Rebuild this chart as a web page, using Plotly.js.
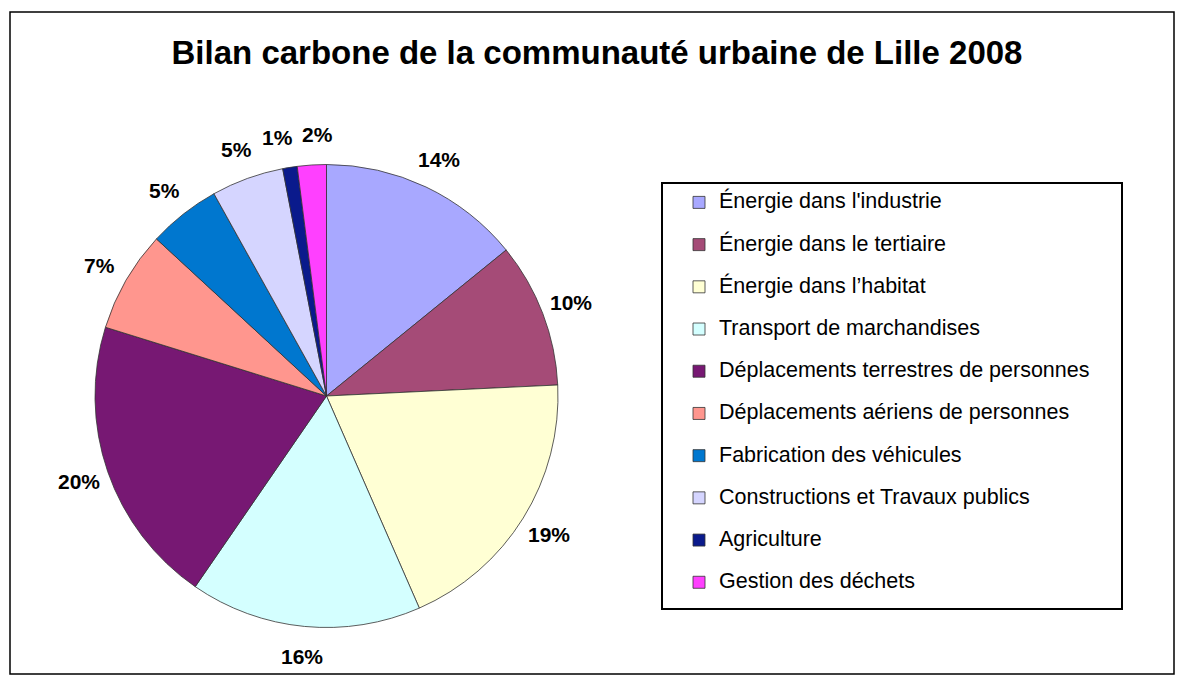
<!DOCTYPE html>
<html><head><meta charset="utf-8">
<script src="https://cdn.plot.ly/plotly-3.0.1.min.js"></script>
<style>html,body{margin:0;padding:0;background:#fff;} #chart{width:1184px;height:684px;}</style>
</head><body><div id="chart"></div>
<script>
const categories = ["Énergie dans l'industrie","Énergie dans le tertiaire","Énergie dans l’habitat","Transport de marchandises","Déplacements terrestres de personnes","Déplacements aériens de personnes","Fabrication des véhicules","Constructions et Travaux publics","Agriculture","Gestion des déchets"];
const shares = [14,10,19,16,20,7,5,5,1,2];
const colors = ["#A8A8FF","#A54B77","#FFFFD4","#D4FFFF","#771873","#FF968E","#0077CF","#D5D5FF","#0A1A8C","#FF40FF"];
const titleText = "Bilan carbone de la communauté urbaine de Lille 2008";

const W = 1184, H = 684;
const cx = 326.5, cy = 396, R = 231.5, labelR = 262;
const LABEL_SIZE = 21;
const FONT = "Liberation Sans, Arial, sans-serif";
const px2x = p => p / W, py2y = p => 1 - p / H;

const total = shares.reduce((a, b) => a + b, 0);
let cum = 0;
const labels = shares.map(v => {
  const mid = (cum + v / 2) / total * 2 * Math.PI;
  cum += v;
  const txt = Math.round(v / total * 100) + '%';
  const w = (txt.length - 1) * 0.556 * LABEL_SIZE + 0.889 * LABEL_SIZE;
  return {px: cx + labelR * Math.sin(mid), py: cy - labelR * Math.cos(mid), txt: txt, w: w};
});
// simple collision avoidance between neighbouring labels (horizontal push)
for (let k = 0; k < 3; k++) {
  for (let i = 0; i < labels.length; i++) {
    const a = labels[i], b = labels[(i + 1) % labels.length];
    if (Math.abs(a.py - b.py) < LABEL_SIZE) {
      const left = a.px < b.px ? a : b, right = a.px < b.px ? b : a;
      const need = (left.w + right.w) / 2 + 10 - (right.px - left.px);
      if (need > 0) { left.px -= need / 2; right.px += need / 2; }
    }
  }
}
const labelAnn = labels.map(l => ({xref: 'paper', yref: 'paper',
  x: px2x(l.px), y: py2y(l.py), text: l.txt, showarrow: false,
  xanchor: 'center', yanchor: 'middle',
  font: {family: FONT, size: LABEL_SIZE, color: '#000', weight: 'bold'}}));

const legendLabels = categories.map(c => "<span style='font-size:21.5px'>" + c + "</span><br>");

const trace = {
  type: 'pie', labels: legendLabels, values: shares, sort: false,
  direction: 'clockwise', rotation: 0, textinfo: 'none', hoverinfo: 'none',
  marker: {colors: colors, line: {color: '#333333', width: 0.8}},
  domain: {x: [px2x(cx - R), px2x(cx + R)], y: [py2y(cy + R), py2y(cy - R)]},
  showlegend: true
};

const layout = {
  width: W, height: H, margin: {l: 0, r: 0, t: 0, b: 0},
  paper_bgcolor: '#fff', plot_bgcolor: '#fff',
  font: {family: FONT, color: '#000'},
  title: {text: titleText, x: px2x(597), xanchor: 'center', y: py2y(52), yanchor: 'middle',
    font: {family: FONT, size: 33, color: '#000', weight: 'bold'}},
  showlegend: true,
  legend: {x: px2x(679), xanchor: 'left', y: py2y(186.1), yanchor: 'top',
    bgcolor: 'rgba(0,0,0,0)', borderwidth: 0, valign: 'top',
    font: {family: FONT, size: 15.08, color: '#000'}},
  annotations: labelAnn,
  shapes: [
    {type: 'rect', xref: 'paper', yref: 'paper', x0: px2x(10), x1: px2x(1174), y0: py2y(12), y1: py2y(674),
      line: {color: '#000', width: 1.5}, layer: 'below'},
    {type: 'rect', xref: 'paper', yref: 'paper', x0: px2x(662), x1: px2x(1122), y0: py2y(183), y1: py2y(609),
      line: {color: '#000', width: 2}, layer: 'below'}
  ]
};

Plotly.newPlot('chart', [trace], layout, {displayModeBar: false, staticPlot: true});
</script>
</body></html>
